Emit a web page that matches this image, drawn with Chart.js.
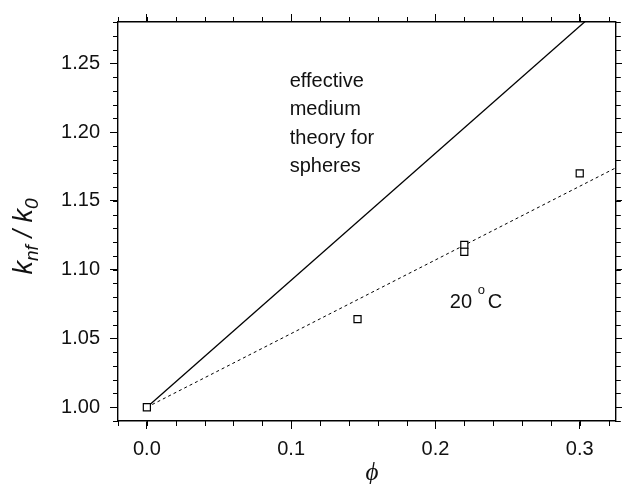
<!DOCTYPE html>
<html>
<head>
<meta charset="utf-8">
<script src="https://cdn.jsdelivr.net/npm/chart.js@4.4.1/dist/chart.umd.min.js"></script>
<style>
    html, body { margin: 0; padding: 0; background: #fff; }
    #wrap { width: 622px; height: 484px; position: relative; }
</style>
</head>
<body>
<div id="wrap"><canvas id="grafico"></canvas></div>
<script>
// measured points at 20 C
const phiMeasured = [0.0, 0.146, 0.22, 0.22, 0.30];
const kMeasured = [1.000, 1.064, 1.118, 1.113, 1.170];

// effective medium theory for spheres (solid)
const phiTheory = [0.0, 0.325];
const kTheory = [1.000, 1.300];

// fit through the data (dashed)
const phiFit = [0.0, 0.325];
const kFit = [1.000, 1.174];

const xTicks = [0.0, 0.1, 0.2, 0.3];
const yTicks = [1.00, 1.05, 1.10, 1.15, 1.20, 1.25];
const xRange = [-0.02, 0.325];
const yRange = [0.99, 1.28];
const xMinorStep = 0.02;
const yMinorStep = 0.01;

const theoryLabel = ['effective', 'medium', 'theory for', 'spheres'];

const toPoints = (xs, ys) => xs.map((x, i) => ({ x: x, y: ys[i] }));
const setTicks = (vals) => (scale) => { scale.ticks = vals.map(v => ({ value: v })); };

const FONT = '"Liberation Sans", Arial, sans-serif';

const minorTicks = {
    id: 'minorTicks',
    afterDraw(chart) {
        const ctx = chart.ctx;
        const a = chart.chartArea;
        const sx = chart.scales.x, sy = chart.scales.y;
        ctx.save();
        ctx.strokeStyle = '#000';
        ctx.lineWidth = 1;
        ctx.beginPath();
        for (let i = 0; ; i++) {
            const v = xRange[0] + i * xMinorStep;
            if (v > xRange[1] + 1e-9) break;
            const px = Math.round(sx.getPixelForValue(v)) + 0.5;
            ctx.moveTo(px, a.bottom); ctx.lineTo(px, a.bottom + 5);
            ctx.moveTo(px, a.top); ctx.lineTo(px, a.top - 5);
        }
        for (let i = 0; ; i++) {
            const v = yRange[0] + i * yMinorStep;
            if (v > yRange[1] + 1e-9) break;
            const py = Math.round(sy.getPixelForValue(v)) + 0.5;
            ctx.moveTo(a.left, py); ctx.lineTo(a.left - 5, py);
            ctx.moveTo(a.right, py); ctx.lineTo(a.right + 5, py);
        }
        ctx.stroke();
        ctx.restore();
    }
};

const notes = {
    id: 'notes',
    afterDraw(chart) {
        const ctx = chart.ctx;
        const sx = chart.scales.x, sy = chart.scales.y;
        ctx.save();
        ctx.fillStyle = '#111';
        ctx.textBaseline = 'alphabetic';

        // effective medium theory label
        ctx.font = '20px ' + FONT;
        ctx.textAlign = 'left';
        const tx = sx.getPixelForValue(0.099);
        const ty = sy.getPixelForValue(1.233);
        theoryLabel.forEach((line, i) => ctx.fillText(line, tx, ty + i * 28.5));

        // 20 degC
        const cx = sx.getPixelForValue(0.21);
        const cy = sy.getPixelForValue(1.0724);
        ctx.fillText('20', cx, cy);
        ctx.font = '13px ' + FONT;
        ctx.fillText('o', cx + 28, cy - 14);
        ctx.font = '20px ' + FONT;
        ctx.fillText('C', cx + 38, cy);

        // x title
        ctx.font = 'italic 25px "Liberation Serif", "DejaVu Serif", serif';
        ctx.textAlign = 'center';
        ctx.textBaseline = 'middle';
        ctx.fillText('\u03D5', (chart.chartArea.left + chart.chartArea.right) / 2 + 5, 473);

        // y title: k_nf / k_0
        const parts = [
            { t: 'k', f: 27, dy: 0 },
            { t: 'nf', f: 19, dy: 6 },
            { t: ' / ', f: 27, dy: 0 },
            { t: 'k', f: 27, dy: 0 },
            { t: '0', f: 19, dy: 6 }
        ];
        ctx.textAlign = 'left';
        ctx.textBaseline = 'alphabetic';
        let total = 0;
        parts.forEach(p => { ctx.font = 'italic ' + p.f + 'px ' + FONT; p.w = ctx.measureText(p.t).width; total += p.w; });
        ctx.translate(32, (chart.chartArea.top + chart.chartArea.bottom) / 2 + 15);
        ctx.rotate(-Math.PI / 2);
        let x = -total / 2;
        parts.forEach(p => {
            ctx.font = 'italic ' + p.f + 'px ' + FONT;
            ctx.fillText(p.t, x, p.dy);
            x += p.w;
        });
        ctx.restore();
    }
};

const majorGrid = { display: true, drawOnChartArea: false, drawTicks: true, tickLength: 8, color: '#000', lineWidth: 1 };
const frame = { display: true, color: '#000', width: 1.4 };

const ctx = document.getElementById('grafico').getContext('2d');
const grafico = new Chart(ctx, {
    type: 'scatter',
    data: {
        datasets: [{
            label: 'measured',
            data: toPoints(phiMeasured, kMeasured),
            pointStyle: 'rect',
            pointRadius: 5,
            pointBackgroundColor: '#fff',
            pointBorderColor: '#000',
            pointBorderWidth: 1.2,
            showLine: false
        },
        {
            label: 'effective medium theory',
            data: toPoints(phiTheory, kTheory),
            showLine: true,
            borderColor: '#000',
            borderWidth: 1.3,
            pointRadius: 0
        },
        {
            label: 'fit',
            data: toPoints(phiFit, kFit),
            showLine: true,
            borderColor: '#000',
            borderWidth: 1,
            borderDash: [3, 3],
            pointRadius: 0
        }]
    },
    options: {
        responsive: true,
        maintainAspectRatio: false,
        animation: false,
        layout: { padding: 0 },
        plugins: {
            legend: { display: false },
            tooltip: { enabled: false }
        },
        scales: {
            x: {
                type: 'linear', position: 'bottom',
                min: xRange[0], max: xRange[1],
                afterBuildTicks: setTicks(xTicks),
                afterFit: (s) => { s.height = 63; },
                grid: majorGrid, border: frame,
                ticks: { color: '#111', padding: 8, font: { size: 20, family: FONT }, maxRotation: 0, callback: (v) => v.toFixed(1) }
            },
            x2: {
                type: 'linear', position: 'top',
                min: xRange[0], max: xRange[1],
                afterBuildTicks: setTicks(xTicks),
                afterFit: (s) => { s.height = 16; },
                grid: majorGrid, border: frame,
                ticks: { display: false }
            },
            y: {
                type: 'linear', position: 'left',
                min: yRange[0], max: yRange[1],
                afterBuildTicks: setTicks(yTicks),
                afterFit: (s) => { s.width = 118; },
                grid: majorGrid, border: frame,
                ticks: { color: '#111', padding: 10, font: { size: 20, family: FONT }, callback: (v) => v.toFixed(2) }
            },
            y2: {
                type: 'linear', position: 'right',
                min: yRange[0], max: yRange[1],
                afterBuildTicks: setTicks(yTicks),
                afterFit: (s) => { s.width = 2; },
                grid: majorGrid, border: frame,
                ticks: { display: false }
            }
        }
    },
    plugins: [minorTicks, notes]
});
</script>
</body>
</html>
